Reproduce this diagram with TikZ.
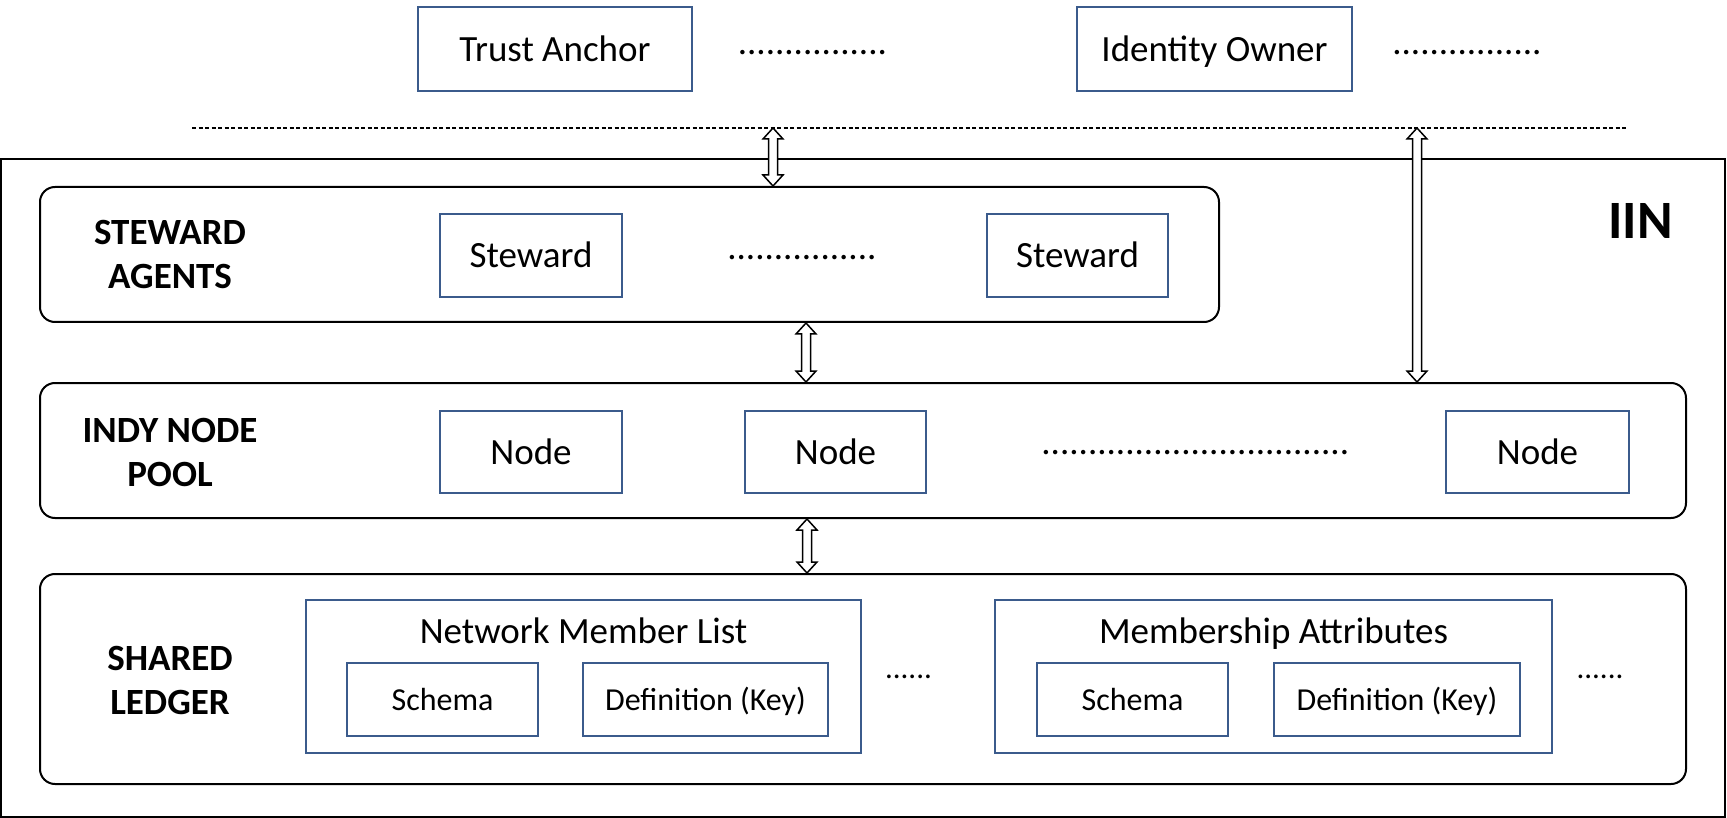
\documentclass[tikz,border=0pt]{standalone}
\usepackage{fontspec}
\setmainfont{Carlito}
\usetikzlibrary{calc}
\definecolor{boxblue}{HTML}{3B5B8C}
\newcommand{\hollowarrow}[2]{%
  \draw[hollow] let \p1=(#1), \p2=(#2) in
    (\x1,\y1) -- (\x1+10pt,\y1-11pt) -- (\x1+4.5pt,\y1-11pt) -- (\x1+4.5pt,\y2+11pt)
    -- (\x1+10pt,\y2+11pt) -- (\x1,\y2) -- (\x1-10pt,\y2+11pt) -- (\x1-4.5pt,\y2+11pt)
    -- (\x1-4.5pt,\y1-11pt) -- (\x1-10pt,\y1-11pt) -- cycle;}
\begin{document}
\begin{tikzpicture}[x=1pt,y=-1pt,
  bluebox/.style={draw=boxblue,line width=2pt,inner sep=0pt,
    font=\fontsize{37}{44}\selectfont,text height=25pt,text depth=0pt},
  smallbox/.style={bluebox,font=\fontsize{32}{38}\selectfont,text height=21.5pt},
  groupbox/.style={draw=boxblue,line width=2pt,inner sep=0pt},
  layer/.style={draw=black,line width=2pt,rounded corners=15pt,inner sep=0pt},
  layerlabel/.style={font=\fontsize{37}{44}\selectfont\bfseries,align=center,anchor=base,inner sep=0pt},
  title/.style={font=\fontsize{37}{44}\selectfont,anchor=base,inner sep=0pt},
  dotsrow/.style={font=\fontsize{37}{44}\selectfont,anchor=base,inner sep=0pt},
  shortdots/.style={font=\fontsize{31}{38}\selectfont,anchor=base,inner sep=0pt},
  hollow/.style={draw=black,line width=1.5pt,fill=white,line join=miter},
  sepline/.style={draw=black,line width=1.2pt,dash pattern=on 4pt off 2.5pt}]
\useasboundingbox (0,0) rectangle (1727,818);

% outer IIN frame
\node[draw=black,line width=2pt,inner sep=0pt,minimum width=1724pt,minimum height=657pt] (iin) at (863,488) {};
\node[font=\fontsize{54}{60}\selectfont\bfseries,anchor=base,inner sep=0pt] (iinlabel) at (1640.5,239) {IIN};

% top actors
\node[bluebox,minimum width=274pt,minimum height=84pt] (ta) at (555,49) {Trust Anchor};
\node[bluebox,minimum width=275pt,minimum height=84pt] (io) at (1214.5,49) {Identity Owner};
\node[dotsrow] (tadots) at (812.5,55) {................};
\node[dotsrow] (iodots) at (1467,55) {................};

% separator line
\coordinate (dl) at (192,128);
\coordinate (dr) at (1626,128);
\path[sepline] (dl) -- (dr);

% steward agents layer
\node[layer,minimum width=1179pt,minimum height=135pt] (sa) at (629.5,254.5) {};
\node[layerlabel] (salabel) at (170,289) {STEWARD\\AGENTS};
\node[bluebox,minimum width=182pt,minimum height=83pt] (st1) at (531,255.5) {Steward};
\node[bluebox,minimum width=181pt,minimum height=83pt] (st2) at (1077.5,255.5) {Steward};
\node[dotsrow] (stdots) at (802,260) {................};

% indy node pool layer
\node[layer,minimum width=1646pt,minimum height=135pt] (pool) at (863,450.5) {};
\node[layerlabel] (poollabel) at (170,486) {INDY NODE\\POOL};
\node[bluebox,minimum width=182pt,minimum height=82pt] (n1) at (531,452) {Node};
\node[bluebox,minimum width=181pt,minimum height=82pt] (n2) at (835.5,452) {Node};
\node[bluebox,minimum width=183pt,minimum height=82pt] (n3) at (1537.5,452) {Node};
\node[dotsrow] (ndots) at (1195.5,454) {.................................};

% shared ledger layer
\node[layer,minimum width=1646pt,minimum height=210pt] (sl) at (863,679) {};
\node[layerlabel] (sllabel) at (170,714) {SHARED\\LEDGER};
\node[groupbox,minimum width=555pt,minimum height=153pt] (nml) at (583.5,676.5) {};
\node[title] (nmltitle) at (583.5,643) {Network Member List};
\node[smallbox,minimum width=191pt,minimum height=73pt] (sc1) at (442.5,699.5) {Schema};
\node[smallbox,minimum width=245pt,minimum height=73pt] (df1) at (705.5,699.5) {Definition (Key)};
\node[groupbox,minimum width=557pt,minimum height=153pt] (ma) at (1273.5,676.5) {};
\node[title] (matitle) at (1273.5,643) {Membership Attributes};
\node[smallbox,minimum width=191pt,minimum height=73pt] (sc2) at (1132.5,699.5) {Schema};
\node[smallbox,minimum width=246pt,minimum height=73pt] (df2) at (1397,699.5) {Definition (Key)};
\node[shortdots] (mdots1) at (908.5,678) {......};
\node[shortdots] (mdots2) at (1600,678) {......};

% connectors
\coordinate (a1t) at (773,128);
\coordinate (a1b) at (sa.north -| a1t);
\coordinate (a2t) at (sa.south -| 806,0);
\coordinate (a2b) at (pool.north -| 806,0);
\coordinate (a3t) at (1417,128);
\coordinate (a3b) at (pool.north -| a3t);
\coordinate (a4t) at (pool.south -| 807,0);
\coordinate (a4b) at (sl.north -| 807,0);
\hollowarrow{a1t}{a1b}
\hollowarrow{a2t}{a2b}
\hollowarrow{a3t}{a3b}
\hollowarrow{a4t}{a4b}
\end{tikzpicture}
\end{document}
